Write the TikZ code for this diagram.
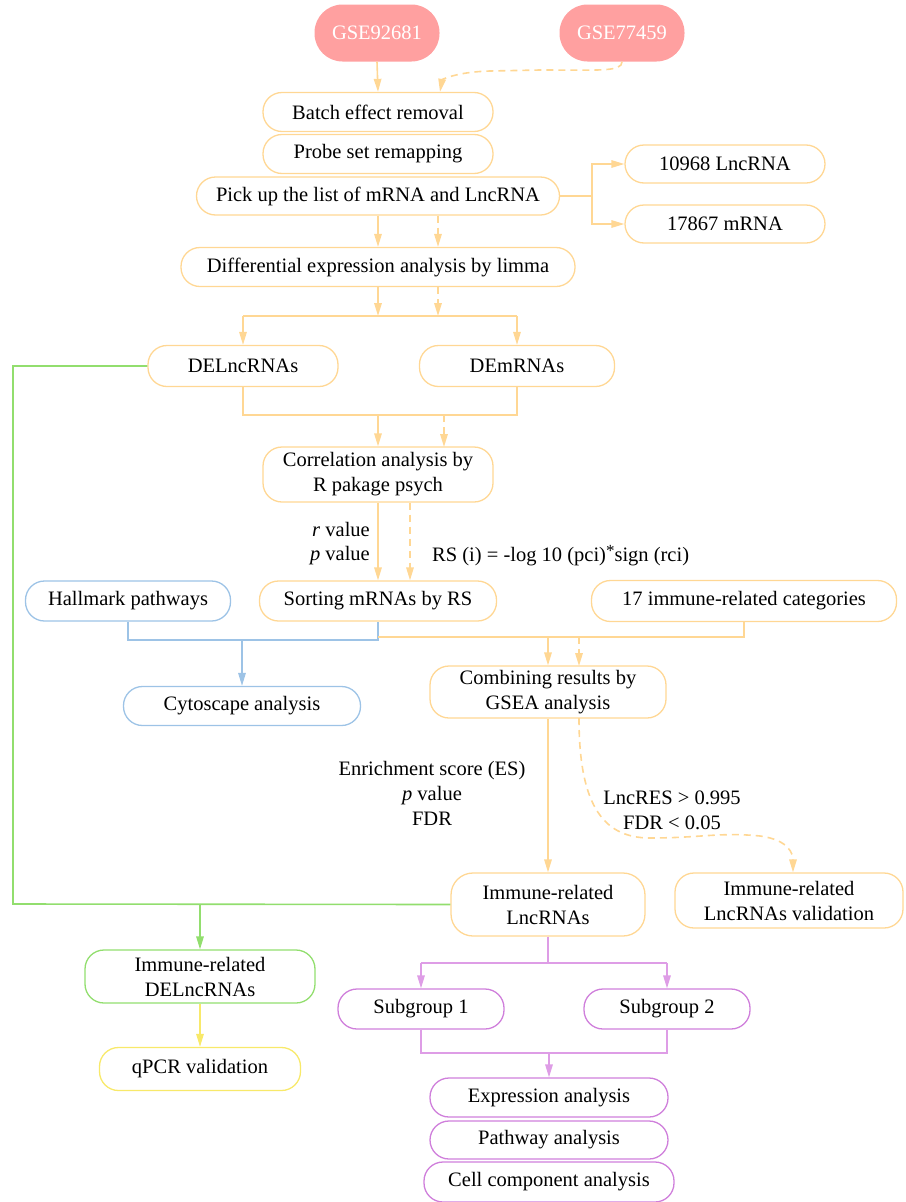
\documentclass[tikz,border=0pt]{standalone}
\usepackage{fontspec}
\setmainfont{Liberation Serif}
\usetikzlibrary{arrows.meta,calc}
\newcommand\myfs{\fontsize{20.5}{25}\selectfont}
\definecolor{pinkf}{HTML}{FFA0A0}
\definecolor{org}{HTML}{FFD794}
\definecolor{blu}{HTML}{9DC3E6}
\definecolor{grn}{HTML}{92DE6E}
\definecolor{yel}{HTML}{F8E96A}
\definecolor{pur}{HTML}{CF7FDB}
\definecolor{purl}{HTML}{DE9DE6}
\begin{document}
\begin{tikzpicture}[x=1pt,y=-1pt,
  box/.style={draw=#1, line width=1.3pt, rounded corners=19pt, inner sep=0pt, align=center, font=\myfs},
  obox/.style={box=org},
  bbox/.style={box=blu},
  gbox/.style={box=grn},
  ybox/.style={box=yel},
  pbox/.style={box=pur},
  gse/.style={fill=pinkf, draw=none, rounded corners=28pt, inner sep=0pt, text=white, font=\myfs, minimum width=125pt, minimum height=57pt},
  tip/.style={-{Triangle[length=13pt,width=7.5pt]}},
  oline/.style={draw=org, line width=1.6pt},
  oarrow/.style={oline, tip},
  odash/.style={oline, tip, dash pattern=on 7pt off 5pt},
  bline/.style={draw=blu, line width=1.6pt},
  gline/.style={draw=grn, line width=1.6pt},
  yline/.style={draw=yel, line width=1.6pt},
  pline/.style={draw=purl, line width=1.6pt},
  lbl/.style={font=\myfs, inner sep=0pt, align=center}
]
\useasboundingbox (0,0) rectangle (905,1202);

% nodes
\node[gse] (g1) at (377,33) {GSE92681};
\node[gse] (g2) at (622,33) {GSE77459};
\node[obox, minimum width=230pt, minimum height=39pt] (batch) at (378,112) {Batch effect removal};
\node[obox, minimum width=230pt, minimum height=39pt] (probe) at (378,154) {Probe set remapping};
\node[obox, minimum width=363pt, minimum height=38pt] (pick) at (378,196) {Pick up the list of mRNA and LncRNA};
\node[obox, minimum width=200pt, minimum height=38pt] (lnc) at (725,164) {10968 LncRNA};
\node[obox, minimum width=200pt, minimum height=38pt] (mrna) at (725,224) {17867 mRNA};
\node[obox, minimum width=394pt, minimum height=39pt] (diff) at (378,267) {Differential expression analysis by limma};
\node[obox, minimum width=190pt, minimum height=41pt] (delnc) at (243,366) {DELncRNAs};
\node[obox, minimum width=195pt, minimum height=41pt] (dem) at (517,366) {DEmRNAs};
\node[obox, minimum width=230pt, minimum height=55pt] (corr) at (378,474.5) {Correlation analysis by\\R pakage psych};
\node[obox, minimum width=237pt, minimum height=40pt] (sort) at (378,601) {Sorting mRNAs by RS};
\node[bbox, minimum width=205pt, minimum height=40pt] (hall) at (128,601) {Hallmark pathways};
\node[obox, minimum width=305pt, minimum height=41pt] (cat) at (744,601) {17 immune-related categories};
\node[bbox, minimum width=237pt, minimum height=39pt] (cyto) at (242,706) {Cytoscape analysis};
\node[obox, minimum width=236pt, minimum height=52pt] (comb) at (548,692) {Combining results by\\GSEA analysis};
\node[obox, minimum width=194pt, minimum height=63pt, rounded corners=22pt] (irl) at (548,904.5) {Immune-related\\LncRNAs};
\node[obox, minimum width=228pt, minimum height=55pt] (val) at (789,900.5) {Immune-related\\LncRNAs validation};
\node[gbox, minimum width=230pt, minimum height=53pt] (irdel) at (200,976.5) {Immune-related\\DELncRNAs};
\node[ybox, minimum width=201pt, minimum height=43pt] (qpcr) at (200,1069) {qPCR validation};
\node[pbox, minimum width=166pt, minimum height=40pt] (sub1) at (421,1009) {Subgroup 1};
\node[pbox, minimum width=166pt, minimum height=40pt] (sub2) at (667,1009) {Subgroup 2};
\node[pbox, minimum width=238pt, minimum height=39pt] (expr) at (549,1097.5) {Expression analysis};
\node[pbox, minimum width=238pt, minimum height=38pt] (path) at (549,1140) {Pathway analysis};
\node[pbox, minimum width=250pt, minimum height=40pt] (cell) at (549,1182) {Cell component analysis};

% labels
\node[lbl, anchor=east] (rv) at (370,529) {\textit{r} value};
\node[lbl, anchor=east] (pv) at (370,556) {\textit{p} value};
\node[lbl, anchor=west] (rs) at (432,556) {RS (i) = -log 10 (pci)\raisebox{5pt}{\fontsize{17}{17}\selectfont *}sign (rci)};
\node[lbl] (es) at (432,793) {Enrichment score (ES)\\\textit{p} value\\FDR};
\node[lbl] (lr) at (672,810) {LncRES > 0.995\\FDR < 0.05};

% junction coordinates
\coordinate (pj) at (592,196);
\coordinate (j1) at (378,316);
\coordinate (j1d) at (438,316);
\coordinate (j1l) at (243,316);
\coordinate (j1r) at (517,316);
\coordinate (j2l) at (243,415);
\coordinate (j2r) at (517,415);
\coordinate (j2) at (378,415);
\coordinate (j2d) at (444,415);
\coordinate (cd) at (444,447);
\coordinate (bj1) at (128,640);
\coordinate (bj2) at (378,640);
\coordinate (bj) at (242,640);
\coordinate (oj1) at (378,637);
\coordinate (oj2) at (744,637);
\coordinate (oj) at (548,637);
\coordinate (ojd) at (579,637);
\coordinate (cn) at (579,666);
\coordinate (cs) at (579,718);
\coordinate (gl1) at (13,366);
\coordinate (gl2) at (13,904);
\coordinate (gj) at (200,904);
\coordinate (pj0) at (548,963);
\coordinate (pj1) at (421,963);
\coordinate (pj2) at (667,963);
\coordinate (pk1) at (421,1053);
\coordinate (pk2) at (667,1053);
\coordinate (pk) at (549,1053);

% connectors
\draw[oarrow] (g1.south) -- (batch.north);
\draw[odash] (g2.south) .. controls (622,72) and (600,70) .. (540,70) -- (490,71) .. controls (455,72) and (442,80) .. ([xshift=62pt]batch.north);
\draw[oline] (pick.east) -- (pj);
\draw[oarrow] (pj) |- (lnc.west);
\draw[oarrow] (pj) |- (mrna.west);
\draw[oarrow] (pick.south) -- (diff.north);
\draw[odash] ([xshift=60pt]pick.south) -- ([xshift=60pt]diff.north);
\draw[oarrow] (diff.south) -- (j1);
\draw[odash] ([xshift=60pt]diff.south) -- (j1d);
\draw[oline] (j1l) -- (j1r);
\draw[oarrow] (j1l) -- (delnc.north);
\draw[oarrow] (j1r) -- (dem.north);
\draw[oline] (delnc.south) -- (j2l) -- (j2r) -- (dem.south);
\draw[oarrow] (j2) -- (corr.north);
\draw[odash] (j2d) -- (cd);
\draw[oarrow] (corr.south) -- (sort.north);
\draw[odash] ([xshift=32pt]corr.south) -- ([xshift=32pt]sort.north);
\draw[bline] (hall.south) -- (bj1) -- (bj2) -- (sort.south);
\draw[bline, tip] (bj) -- (cyto.north);
\draw[oline] (oj1) -- (oj2) -- (cat.south);
\draw[oarrow] (oj) -- (comb.north);
\draw[odash] (ojd) -- (cn);
\draw[oarrow] (comb.south) -- (irl.north);
\draw[odash] (cs) .. controls (579,800) and (600,838) .. (650,838) .. controls (700,838) and (720,832) .. (760,836) .. controls (790,840) and (793,855) .. ([xshift=4pt]val.north);
\draw[gline] (delnc.west) -- (gl1) -- (gl2) -- (irl.west);
\draw[gline, tip] (gj) -- (irdel.north);
\draw[yline, tip] (irdel.south) -- (qpcr.north);
\draw[pline] (irl.south) -- (pj0);
\draw[pline] (pj1) -- (pj2);
\draw[pline, tip] (pj1) -- (sub1.north);
\draw[pline, tip] (pj2) -- (sub2.north);
\draw[pline] (sub1.south) -- (pk1) -- (pk2) -- (sub2.south);
\draw[pline, tip] (pk) -- (expr.north);
\end{tikzpicture}
\end{document}
